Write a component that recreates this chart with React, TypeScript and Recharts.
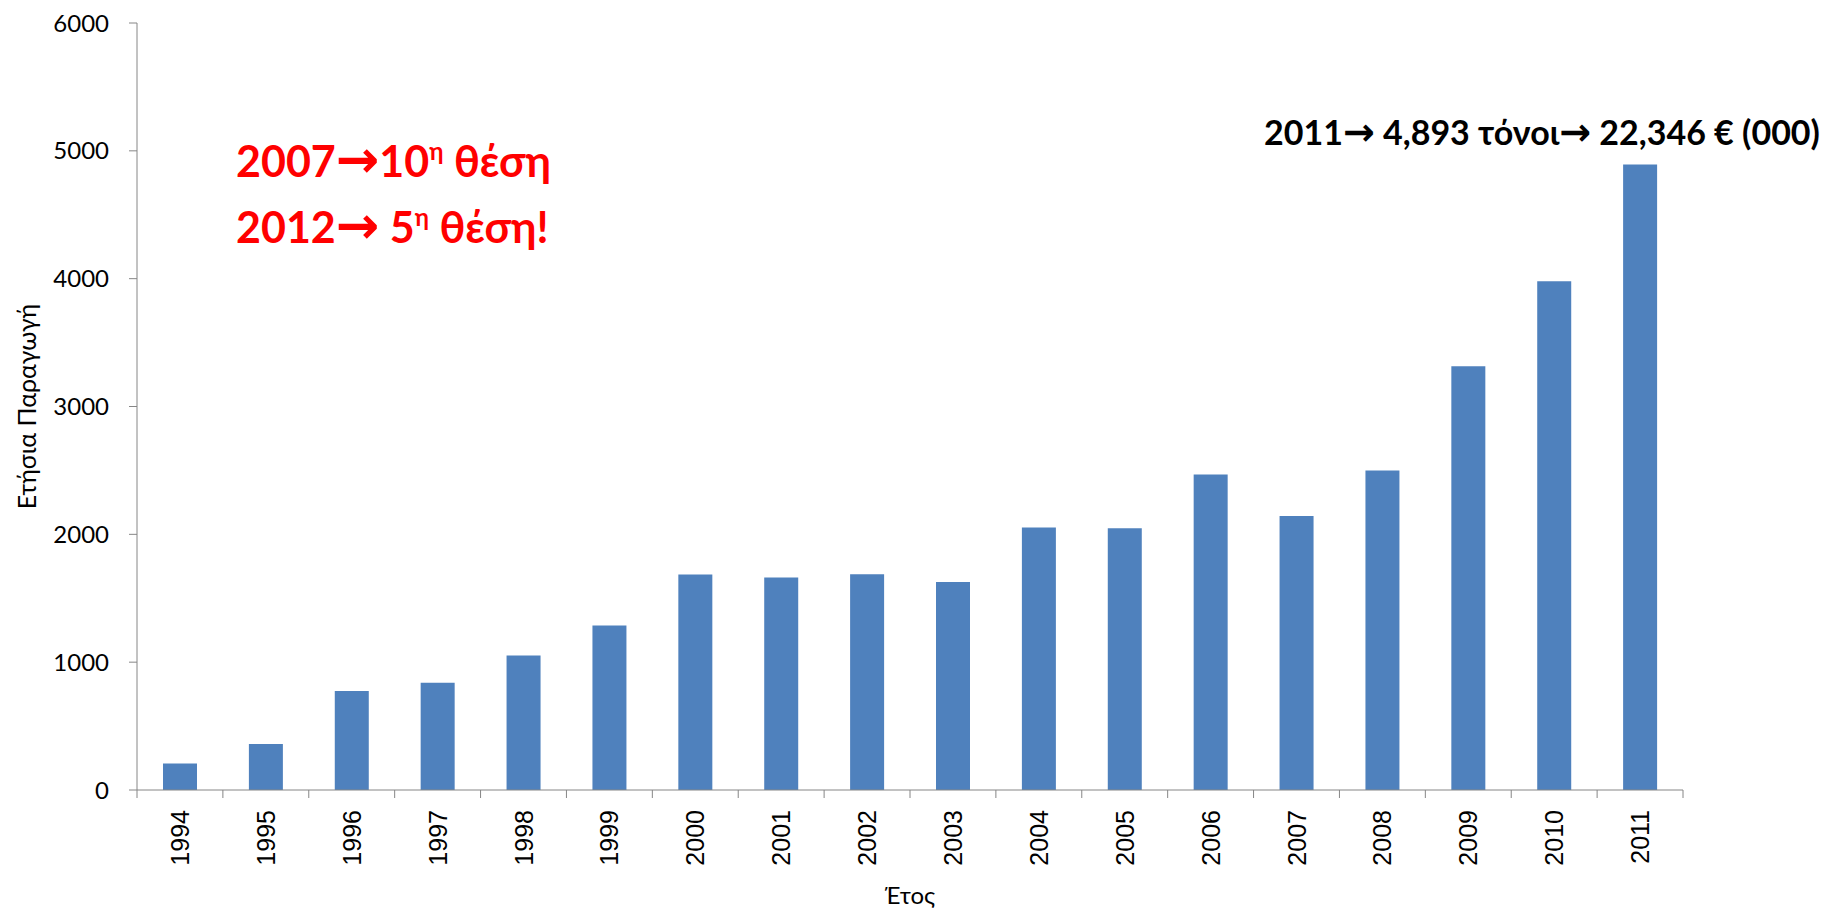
import React from 'react';
import { BarChart, Bar, XAxis, YAxis, Label } from 'recharts';

const years = ['1994', '1995', '1996', '1997', '1998', '1999', '2000', '2001', '2002', '2003', '2004', '2005', '2006', '2007', '2008', '2009', '2010', '2011'];
const production = [207, 359, 774, 839, 1053, 1286, 1685, 1662, 1688, 1627, 2053, 2048, 2468, 2144, 2500, 3314, 3980, 4893];
const yTicks = [0, 1000, 2000, 3000, 4000, 5000, 6000];

const xAxisTitle = 'Έτος';
const yAxisTitle = 'Ετήσια Παραγωγή';
const ARROW = '→';
const noteLeft1 = ['2007', '10', 'η', ' θέση'];
const noteLeft2 = ['2012', ' 5', 'η', ' θέση!'];
const noteRight = ['2011', ' 4,893 τόνοι', ' 22,346 € (000)'];

const data = years.map((year, i) => ({ pos: i + 0.5, year, value: production[i] }));
const xTicks: number[] = [];
for (let i = 0; i <= years.length; i++) {
  xTicks.push(i);
  if (i < years.length) xTicks.push(i + 0.5);
}

const AXIS = '#868686';
const BAR = '#4F81BD';
const FONT = "Lato, 'Open Sans', sans-serif";
const ARROW_FONT = "'DejaVu Sans', sans-serif";

const XTick = (props: any) => {
  const { x, y, payload } = props;
  const v = payload.value as number;
  if (Number.isInteger(v)) {
    return <line x1={x} x2={x} y1={y} y2={y + 8} stroke={AXIS} strokeWidth={1} />;
  }
  const label = years[Math.floor(v)];
  const ty = y + 20;
  return (
    <text
      x={x}
      y={ty}
      transform={`rotate(-90, ${x}, ${ty})`}
      textAnchor="end"
      dy="0.36em"
      fontSize={25}
      fontFamily="'Liberation Sans', Arial, sans-serif"
      fill="#000"
    >
      {label}
    </text>
  );
};

const YTitle = (props: any) => {
  const vb = props.viewBox || {};
  const cx = 27;
  const cy = vb.y + vb.height / 2;
  return (
    <text
      x={cx}
      y={cy}
      transform={`rotate(-90, ${cx}, ${cy})`}
      textAnchor="middle"
      dy="0.35em"
      fontSize={25}
      fontFamily={FONT}
      fill="#000"
    >
      {yAxisTitle}
    </text>
  );
};

export default function App() {
  return (
    <div style={{ position: 'absolute', left: 0, top: 0, width: 1829, height: 908, background: '#fff' }}>
      <BarChart width={1829} height={908} data={data} margin={{ top: 23, right: 146, left: 0, bottom: 0 }}>
        <XAxis
          dataKey="pos"
          type="number"
          domain={[0, years.length]}
          ticks={xTicks}
          interval={0}
          tickSize={0}
          tickMargin={0}
          tickLine={false}
          tick={<XTick />}
          height={118}
          axisLine={{ stroke: AXIS, strokeWidth: 1 }}
        >
          <Label
            value={xAxisTitle}
            position="insideBottom"
            offset={4}
            style={{ fontSize: 24, fontFamily: FONT, fill: '#000' }}
          />
        </XAxis>
        <YAxis
          width={137}
          domain={[0, 6000]}
          ticks={yTicks}
          interval={0}
          tickSize={8}
          tickMargin={20}
          axisLine={{ stroke: AXIS, strokeWidth: 1 }}
          tickLine={{ stroke: AXIS, strokeWidth: 1 }}
          tick={{ fontSize: 24, fontFamily: FONT, fill: '#000' }}
        >
          <Label content={<YTitle />} />
        </YAxis>
        <Bar dataKey="value" fill={BAR} barSize={34} isAnimationActive={false} />
      </BarChart>
      <svg width={1829} height={908} style={{ position: 'absolute', left: 0, top: 0, pointerEvents: 'none' }}>
        <text x={236} y={177} fontSize={43} fontWeight={700} fontFamily={FONT} fill="#FF0000">
          {noteLeft1[0]}
          <tspan fontFamily={ARROW_FONT} fontSize={52}>{ARROW}</tspan>
          <tspan fontSize={43}>{noteLeft1[1]}</tspan>
          <tspan dy={-17} fontSize={24}>{noteLeft1[2]}</tspan>
          <tspan dy={17} fontSize={43}>{noteLeft1[3]}</tspan>
        </text>
        <text x={236} y={243} fontSize={43} fontWeight={700} fontFamily={FONT} fill="#FF0000">
          {noteLeft2[0]}
          <tspan fontFamily={ARROW_FONT} fontSize={52}>{ARROW}</tspan>
          <tspan fontSize={43}>{noteLeft2[1]}</tspan>
          <tspan dy={-17} fontSize={24}>{noteLeft2[2]}</tspan>
          <tspan dy={17} fontSize={43}>{noteLeft2[3]}</tspan>
        </text>
        <text x={1264} y={145} fontSize={34} fontWeight={700} fontFamily={FONT} fill="#000">
          {noteRight[0]}
          <tspan fontFamily={ARROW_FONT} fontSize={38}>{ARROW}</tspan>
          <tspan fontSize={34}>{noteRight[1]}</tspan>
          <tspan fontFamily={ARROW_FONT} fontSize={38}>{ARROW}</tspan>
          <tspan fontSize={34}>{noteRight[2]}</tspan>
        </text>
      </svg>
    </div>
  );
}
